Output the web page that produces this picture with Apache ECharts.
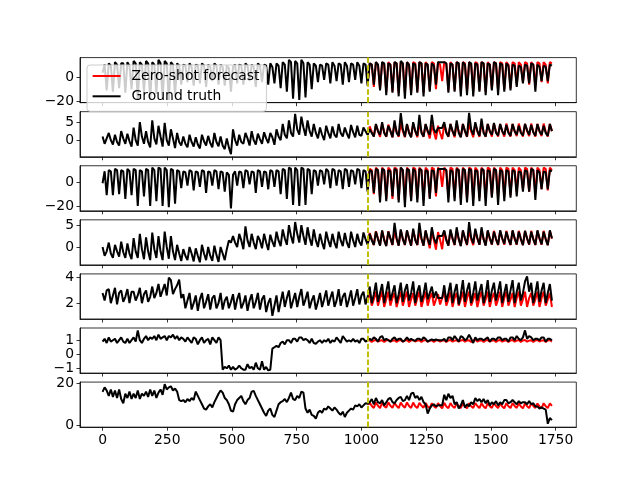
<!DOCTYPE html>
<html>
<head>
<meta charset="utf-8">
<script src="https://cdn.jsdelivr.net/npm/echarts@6/dist/echarts.min.js"></script>
<style>
html, body { margin: 0; padding: 0; background: #fff; }
#chart { width: 640px; height: 480px; }
</style>
</head>
<body>
<div id="chart"></div>
<script>
// series are sampled every STEP time steps, forecast starts at CONTEXT
const STEP = 8;
const CONTEXT = 1024;
const xTicks = [0, 250, 500, 750, 1000, 1250, 1500, 1750];

// panel 1
const hufl = [
  4,11,-11, 12,10,-12, 13,11,-9, 12,12,-13, 13,10,-10, 14,12,-18,
  13,11,-12, 14,12,-19, 13,11,-14, 15,12,-18, 14,12,-19, 13,11,-16,
  12,10,-6, 11,10,-4, 12,9,-7, 11,10,-5, 12,10,-8, 11,9,-3,
  12,10,-6, 11,9,-7, 10,8,-12, 9,11,-5, 11,10,-6, 12,10,-3,
  11,9,-8, 12,10,-4, 11,10,-6, 12,9,-5, 12,10,-9, 13,11,-12,
  15,13,-18, 14,12,-19, 15,12,-17, 13,11,-10, 12,10,-4, 11,10,-2,
  12,11,-5, 13,10,-3, 12,11,-6, 13,10,-4, 12,11,-2, 13,10,-5,
  12,11,-7, 12,11,-6, 13,11,-11, 13,12,-15, 12,11,-13, 13,12,-16,
  14,12,-18, 13,11,-15, 12,11,-13, 13,12,-16, 12,11,-12, 12,10,-6,
  13,13,13, 13,12,-13, 12,11,-12, 13,12,-16, 13,11,-15, 13,12,-16,
  12,11,-12, 13,12,-15, 12,11,-11, 13,12,-15, 12,11,-12, 12,10,-11,
  11,10,-8, 10,9,-5, 11,10,-5, 12,11,-12, 11,9,-3, 10,9,-3,
  11,10
];
const huflPred = [
  -5,
  12,11,-8, 13,11,-10, 13,11,-12, 13,11,-12, 13,12,-13,
  13,12,-13, 13,11,-13, 13,12,-12, 13,12,-13, 13,11,-11,
  13,12,-10, 13,11,-3, 13,12,-11, 13,11,-11, 13,12,-12,
  13,12,-12, 13,11,-12, 13,12,-11, 13,12,-12, 13,11,-10,
  13,12,-11, 13,12,-10, 13,11,-9, 13,12,-6, 13,11,-4,
  13,12,-6, 13,11,-7, 13,12,-4, 13,11,-5,
  13,12
];

// panel 2
const hull = [
  1,-1,0.5, 2,0,-1.2, 1.5,-0.5,-1.5, 2.5,0.5,-1, 1.8,-0.3,-1.8, 3.5,0,-1.5,
  5,1,-1, 2.5,-0.5,-2, 5.5,0.5,-1.2, 4,1,-1.8, 4.8,0,-1.5, 3,0.5,-2.2,
  2,-0.5,-1.5, 1,-1,-2, 1.5,-0.5,-1.8, 0.8,-1.2,-2.3, 1.5,-0.3,-1.5, 1.2,-0.8,-2,
  2,-0.5,-1.7, 1,-1.5,-2.5, 0.5,-2,-3.9, 3,0,-1.5, 1.5,-0.5,-1, 2,0.5,-1.5,
  2.5,0,-1.2, 1.8,0.3,-1, 2.2,0.5,-0.8, 2,0.8,-1.3, 3,1,0, 4.5,1.5,0.5,
  5.5,2,1, 7.3,3,1.5, 6.5,3.5,1.2, 5.5,2.5,1, 4.5,2,0.5, 3.5,1.5,0,
  4,2,0.5, 3.8,1.5,0.8, 4.5,2,1, 3.5,1.8,0.5, 4.2,2.2,0.8, 4,1.5,1.2,
  3.5,2.5,1.5, 3,2,1, 4.5,2.5,1.5, 5,2,1, 4,2.5,0.8, 5.5,2,1.2,
  7.5,3,1, 4.5,2,0.8, 5,2.5,1.2, 7,2,1, 4.5,2.5,1.5, 7,3,2,
  3.4,3.4,3.4, 5,2,1, 4.5,2.5,1.2, 5.5,2,0.8, 4.5,2.5,1, 7.6,3,1.5,
  5,2.5,1.2, 6,2,1, 4.5,2.5,1.5, 4.8,2,1.3, 4.5,2.5,1.5, 4.2,2,1.2,
  4.5,2.5,1.5, 4,2,1.3, 4.5,2.8,1.5, 4.2,2.2,1.2, 4.5,2.5,1.5, 4,2,1.2,
  4.5,2.5
];
const hullPred = [
  1.5,
  3.8,2.3,1, 4.3,2.5,0.9, 4.5,2.3,0.9, 4.3,2.6,0.8, 4.5,2.4,0.9,
  4.6,2.5,0.8, 4.4,2.3,0.9, 4.5,2.5,0.8, 4.6,2.4,0.9, 4.4,2.5,0.5,
  4.2,2.2,0.2, 4,2,0.3, 4.4,2.4,0.9, 4.5,2.5,0.8, 4.6,2.4,0.9,
  4.5,2.5,0.9, 4.6,2.4,0.8, 4.5,2.5,0.9, 4.6,2.4,0.9, 4.5,2.5,1,
  4.6,2.4,1, 4.5,2.5,1, 4.6,2.4,1, 4.5,2.5,1.1, 4.6,2.4,1,
  4.5,2.5,1.1, 4.6,2.4,1, 4.5,2.5,1.1, 4.6,2.4,1,
  4.5,2.5
];

// panel 3
const mufl = [
  -1,9,-11, 10,9,-11, 11,10,-10, 10,9,-14, 11,9,-11, 11,10,-20,
  10,9,-12, 11,10,-20, 12,10,-16, 12,11,-20, 12,10,-21, 11,10,-18,
  10,9,-5, 9,8,-3, 10,9,-7, 9,8,-4, 10,9,-9, 9,8,-3,
  10,9,-6, 9,8,-8, 8,6,-22, 6,9,-3, 9,8,-5, 10,9,-2,
  9,8,-9, 10,9,-4, 9,8,-6, 10,9,-4, 10,9,-10, 11,10,-14,
  12,11,-19, 12,10,-20, 12,11,-19, 11,10,-10, 10,9,-3, 10,9,-2,
  11,9,-5, 11,10,-3, 10,9,-6, 11,10,-4, 10,9,-2, 11,10,-5,
  10,9,-8, 10,9,-9, 11,10,-17, 11,10,-16, 10,9,-12, 11,10,-17,
  12,10,-21, 11,10,-16, 11,9,-17, 11,10,-20, 10,9,-14, 10,9,-9,
  11,11,11, 11,10,-17, 10,9,-16, 11,10,-19, 11,10,-17, 11,10,-20,
  10,9,-16, 11,10,-20, 10,9,-13, 11,10,-19, 10,9,-16, 10,9,-13,
  10,9,-12, 9,8,-8, 10,9,-8, 11,10,-15, 10,8,-6, 9,8,-6,
  10,9
];
const muflPred = [
  -7,
  11,10,-10, 12,10,-13, 12,10,-14, 12,10,-14, 12,11,-15,
  12,10,-15, 12,10,-15, 12,11,-14, 12,10,-15, 12,10,-13,
  12,11,-12, 12,10,-4, 12,10,-13, 12,11,-13, 12,10,-14,
  12,10,-14, 12,11,-14, 12,10,-13, 12,10,-14, 12,11,-12,
  12,10,-13, 12,10,-12, 12,11,-11, 12,10,-8, 12,10,-6,
  12,11,-8, 12,10,-9, 12,10,-6, 12,11,-7,
  12,10
];

// panel 4
const mull = [
  0,-2,-1, 1,-1.5,-2.5, 0.5,-1,-2.2, 1.2,-1.2,-2.5, 0.8,-1.5,-2.8, 2,-1,-2.5,
  3,-0.5,-2.8, 2.2,-1,-3, 3.3,-0.5,-2.5, 2.5,-1,-3, 3.5,0,-2.7, 2.5,-1,-3,
  0.5,-1.5,-3.2, -0.5,-2,-3, 0,-1.5,-3.3, -0.3,-2,-3.5, 0.5,-1.5,-3, 0,-2,-3.2,
  0.3,-1.8,-3.4, 0,-1.5,-3, -0.5,1.5,1, 2.5,1,0, 3,1.5,-0.5, 4.7,1.5,0,
  3,1,-0.5, 2.5,1.5,-0.3, 3,1,-0.7, 2.8,1.2,0, 3.5,1.5,0.2, 4,2,0.5,
  5,2.5,0.8, 5.7,3,1, 5,2.5,0.5, 4.5,2,0.3, 4,1.5,0, 3,1,-0.5,
  3.5,1.5,0, 3,1,-0.3, 3.5,1.5,0.2, 3.2,1,-0.2, 3.5,1.5,0, 3,1.2,0.3,
  3.3,1.8,0.5, 3,1.5,0.5, 3.5,1.8,0.3, 3.8,1.5,0.2, 3.5,2,0.5, 5.5,2,0.3,
  4,1.8,0.5, 3.8,2,0.3, 4.2,1.5,0.5, 5.5,2,0.3, 3.8,1.8,0.5, 4.5,2,0.8,
  2.5,2.5,2.5, 3.8,1.5,0.3, 4,2,0.5, 4.5,1.8,0.2, 3.8,2,0.5, 5.7,2.2,0.8,
  4.2,2,0.5, 4.5,1.8,0.3, 3.8,2,0.6, 3.5,1.8,0.5, 3.8,2,0.7, 3.5,1.8,0.5,
  3.8,2,0.6, 3.5,1.8,0.4, 3.7,2,0.6, 3.5,1.8,0.5, 3.8,2,0.6, 3.5,1.8,0.4,
  3.8,2
];
const mullPred = [
  0.5,
  3.2,1.8,0.4, 3.6,1.9,0.4, 3.7,1.8,0.3, 3.6,1.9,0.4, 3.7,1.8,0.3,
  3.8,1.9,0.4, 3.7,1.8,0.3, 3.8,1.9,0.4, 3.7,1.8,0.3, 3.6,1.7,-0.3,
  3.5,1.6,-0.6, 3.4,1.6,-0.5, 3.6,1.8,0.3, 3.7,1.9,0.4, 3.8,1.8,0.3,
  3.7,1.9,0.4, 3.8,1.8,0.4, 3.7,1.9,0.5, 3.8,1.8,0.4, 3.7,1.9,0.5,
  3.7,1.8,0.4, 3.7,1.9,0.5, 3.7,1.8,0.4, 3.7,1.9,0.5, 3.7,1.8,0.4,
  3.7,1.9,0.5, 3.7,1.8,0.4, 3.7,1.9,0.5, 3.7,1.8,0.4,
  3.7,1.9
];

// panel 5
const lufl = [
  2.8,2.2,3.0, 3.1,2.0,2.6, 3.2,1.9,2.8, 3.0,2.1,2.5, 3.1,2.0,2.9, 2.9,2.2,2.6,
  3.2,2.0,2.7, 3.0,2.1,2.5, 3.3,2.4,2.8, 3.5,2.5,3.0, 3.5,2.6,4.0, 3.8,2.7,3.1,
  3.4,3.85,2.4, 2.7,1.6,2.2, 2.8,1.5,2.0, 2.6,1.4,2.3, 2.8,1.6,2.1, 2.7,1.5,2.4,
  2.6,1.6,2.0, 2.8,1.5,2.2, 2.5,1.6,2.1, 2.7,1.5,2.3, 2.8,1.6,2.0, 2.6,1.4,2.2,
  2.7,1.6,2.1, 2.8,1.5,2.3, 2.6,1.3,2.0, 2.4,1.0,1.8, 2.6,1.3,2.1, 2.9,1.7,2.4,
  3.0,1.6,2.2, 2.8,1.7,2.5, 3.1,1.8,2.3, 2.9,1.6,2.2, 2.6,1.5,2.1, 2.8,1.7,2.3,
  3.0,1.8,2.4, 2.9,1.7,2.2, 3.1,1.8,2.5, 2.8,1.7,2.3, 3.0,1.8,2.4, 3.1,1.9,2.6,
  2.9,1.9,2.5, 3.3,2.0,2.7, 3.6,2.1,2.8, 3.5,2.0,2.9, 3.7,2.2,2.8, 3.4,2.0,2.7,
  3.6,2.1,3.0, 3.5,2.2,2.8, 3.7,2.0,2.9, 3.4,2.1,2.7, 3.6,2.3,2.8, 3.3,2.4,2.9,
  2.4,2.4,2.4, 3.4,2.1,2.8, 3.6,2.0,2.9, 3.5,1.9,2.7, 3.8,2.1,3.0, 3.6,2.0,2.8,
  3.7,2.2,2.9, 3.5,2.0,2.7, 3.8,2.1,3.0, 3.6,2.2,2.9, 3.7,2.0,2.8, 3.5,2.1,3.0,
  3.8,2.0,2.9, 3.6,2.2,2.8, 3.7,4.1,2.9, 3.6,2.0,2.8, 3.7,2.1,3.0, 3.6,2.0,2.8,
  3.5,2.2
];
const luflPred = [
  2.3,
  2.8,1.8,2.3, 2.9,1.8,2.4, 2.9,1.7,2.3, 2.9,1.8,2.4, 2.8,1.7,2.3,
  2.9,1.8,2.4, 2.9,1.7,2.3, 2.8,1.8,2.4, 2.9,1.7,2.3, 2.9,1.8,2.4,
  2.8,1.8,2.3, 2.7,1.9,2.4, 2.9,1.8,2.3, 2.9,1.7,2.4, 2.8,1.8,2.3,
  2.9,1.7,2.4, 2.9,1.8,2.3, 2.8,1.7,2.4, 2.9,1.8,2.3, 2.9,1.7,2.4,
  2.8,1.8,2.3, 2.9,1.7,2.4, 2.9,1.8,2.3, 2.8,1.7,2.4, 2.9,1.8,2.3,
  2.9,1.7,2.4, 2.8,1.8,2.3, 2.9,1.7,2.4, 2.9,1.8,2.3,
  2.8,1.7
];

// panel 6
const lull = [
  0.9,1.1,0.8, 1.2,0.9,1.0, 1.1,0.8,1.0, 1.2,0.9,0.8, 1.1,0.8,1.0, 1.2,0.9,1.7,
  1.0,0.8,1.1, 1.3,1.0,1.2, 1.1,1.3,1.0, 1.4,1.1,1.2, 1.3,1.0,1.3, 1.2,1.4,1.1,
  1.3,1.0,1.2, 1.1,0.9,1.2, 1.0,0.8,1.2, 1.1,0.7,1.0, 1.2,0.8,1.0, 1.1,0.7,1.2,
  1.0,0.8,1.2, 1.0,-1.1,-0.9, -1.0,-0.8,-1.1, -0.9,-1.1,-1.0, -0.8,-1.0,-1.1, -1.1,-0.7,-1.0,
  -0.9,-1.1,-0.6, -1.0,-1.1,-0.5, -1.1,-0.9,-1.15, -1.1,0.4,0.5, 0.6,0.5,0.8, 0.9,0.7,1.0,
  1.0,0.8,1.1, 1.1,0.9,1.2, 1.2,1.0,1.1, 1.0,0.8,1.1, 0.8,0.75,0.9, 1.0,0.8,1.0,
  0.9,1.1,0.8, 1.0,0.9,1.2, 1.0,0.8,1.3, 1.1,0.9,1.0, 0.9,1.1,0.9, 1.0,0.8,1.1,
  1.1,0.9,1.0, 1.1,1.0,1.2, 1.1,0.9,1.2, 1.3,1.0,1.1, 1.0,0.9,1.1, 1.2,1.0,1.1,
  1.1,0.9,1.0, 1.2,1.0,1.1, 1.0,0.95,1.1, 1.1,1.0,1.2, 1.1,0.9,1.0, 1.05,1.0,1.05,
  1.0,1.0,1.0, 1.1,0.9,1.2, 1.2,1.0,1.3, 1.1,0.9,1.3, 1.2,1.0,1.1, 1.4,1.1,0.8,
  1.2,1.0,1.1, 1.1,1.0,1.1, 1.2,0.9,1.1, 1.1,1.0,1.2, 1.2,1.0,1.1, 1.1,0.9,1.2,
  1.2,1.0,1.3, 1.1,1.0,1.2, 1.7,1.1,1.3, 1.2,1.0,1.1, 1.1,1.0,1.2, 1.2,0.9,1.1,
  1.1,1.0
];
const lullPred = [
  1.0,
  1.0,0.88,0.98, 1.02,0.9,0.97, 1.0,0.87,0.98, 1.03,0.9,0.96, 1.0,0.88,0.98,
  1.02,0.9,0.97, 1.01,0.88,0.99, 1.02,0.91,0.97, 1.0,0.88,0.98, 1.02,0.9,0.96,
  1.0,0.88,0.98, 1.01,0.9,0.97, 1.0,0.87,0.98, 1.02,0.9,0.97, 1.0,0.89,0.98,
  1.02,0.9,0.97, 1.0,0.88,0.98, 1.03,0.9,0.97, 1.0,0.88,0.99, 1.02,0.9,0.97,
  1.0,0.88,0.98, 1.02,0.9,0.96, 1.0,0.87,0.98, 1.02,0.9,0.97, 1.01,0.88,0.98,
  1.02,0.9,0.97, 1.0,0.88,0.98, 1.02,0.91,0.97, 1.0,0.88,0.98,
  1.02,0.9
];

// panel 7
const ot = [
  15.9,18.0,16.5, 14,17,13.5, 16.5,13,17, 12.5,10.5,15, 13,16,12.5, 15,13,16.5,
  12.5,15,14, 16,13.5,17, 14,16.5,13, 15.5,17,14.5, 19.5,17,18, 18.5,16.5,17.5,
  16,12,11.5, 12,11,12.5, 11.5,13,12, 16,14,12, 10,8,7.5, 9,10,8.5,
  11,13,15, 16.5,15.5,13, 12,10,7, 6.5,10,12, 13,14,11.5, 10,12,13,
  16,16.3,14, 12,10,8, 6,4.5,7, 8,5,4, 7,10,11, 11.5,12.5,11,
  13,15.5,12.5, 12,14,13, 16,15.5,8, 6,7.5,5, 4.5,3.2,6, 7,6,8,
  7.5,9,8, 7,8.5,7.5, 6,5,6.5, 4,6,7, 8,7.5,9.5, 9,10,8.5,
  9.5,10.5,10.3, 11,12.5,10, 13,11,10.5, 12,9.5,11, 12.5,13,11, 10.5,12,13,
  13.5,11.5,12, 14,12,15, 15.5,13,14, 12,13.5,11, 10,5.6,8, 9.5,10,9,
  9.5,9.5,9.5, 14.5,12,15, 13,14,10, 11,8,9.5, 12,8.5,10, 9,11,10,
  13,11.5,12.5, 11,12.5,10.5, 12,9.5,11, 10,11.5,9.5, 11,10,12, 12,10.5,11,
  12,11,10, 11.5,10.5,11, 11,10,11.5, 10,10.5,9, 9,8,8.5, 8,7.5,0.8,
  3.5,2.5
];
const otPred = [
  10,
  10.8,9.2,8.3, 10.9,9.3,8.2, 10.8,9.1,8.4, 10.9,9.3,8.3, 10.7,9.2,8.2,
  10.8,9.3,8.4, 10.9,9.2,8.3, 10.8,9.1,8.2, 10.7,9.3,8.4, 10.6,9.0,8.2,
  10.5,9.1,8.3, 10.6,9.2,8.1, 10.7,9.0,8.2, 10.6,9.1,8.3, 10.5,9.2,8.2,
  10.6,9.0,8.1, 10.5,9.1,8.3, 10.6,9.2,8.2, 10.5,9.0,8.1, 10.6,9.1,8.3,
  10.5,9.2,8.2, 10.4,9.0,8.1, 10.5,9.1,8.2, 10.6,9.2,8.3, 10.5,9.0,8.1,
  10.4,9.1,8.2, 10.5,9.2,8.3, 10.4,9.0,8.1, 10.5,9.1,8.2,
  10.4,9.2
];

// y tick labels per panel
const yTicks1 = [-20, 0];
const yTicks2 = [0, 5];
const yTicks3 = [-20, 0];
const yTicks4 = [0, 5];
const yTicks5 = [2, 4];
const yTicks6 = [-1, 0, 1];
const yTicks7 = [0, 20];

const panels = [
  { truth: hufl, pred: huflPred, min: -21.4, max: 16.9, ticks: yTicks1 },
  { truth: hull, pred: hullPred, min: -4.6, max: 7.9, ticks: yTicks2 },
  { truth: mufl, pred: muflPred, min: -24, max: 13.6, ticks: yTicks3 },
  { truth: mull, pred: mullPred, min: -4.1, max: 6.2, ticks: yTicks4 },
  { truth: lufl, pred: luflPred, min: 0.76, max: 4.29, ticks: yTicks5 },
  { truth: lull, pred: lullPred, min: -1.34, max: 1.87, ticks: yTicks6 },
  { truth: ot, pred: otPred, min: -0.8, max: 20.5, ticks: yTicks7 }
];

const toPairs = (start, vals) => vals.map((v, k) => [start + k * STEP, v]);

const font = 'DejaVu Sans';
const axisColor = { color: '#000', width: 0.8 };
const grids = [], xAxes = [], yAxes = [], series = [];

panels.forEach((p, k) => {
  grids.push({
    left: 80, top: 57.6 + k * 54.08, width: 496.3, height: 45.07,
    show: true, borderColor: '#000', borderWidth: 0.8, backgroundColor: 'transparent'
  });
  xAxes.push({
    type: 'value', gridIndex: k, min: -87.15, max: 1830.15,
    splitLine: { show: false },
    axisLine: { show: true, onZero: false, lineStyle: axisColor },
    axisTick: { show: true, length: 3.5, lineStyle: axisColor, customValues: xTicks },
    axisLabel: {
      show: k === panels.length - 1, customValues: xTicks, margin: 6,
      color: '#000', fontFamily: font, fontSize: 13.9,
      formatter: v => String(v)
    }
  });
  yAxes.push({
    type: 'value', gridIndex: k, min: p.min, max: p.max,
    splitLine: { show: false },
    axisLine: { show: true, onZero: false, lineStyle: axisColor },
    axisTick: { show: true, length: 3.5, lineStyle: axisColor, customValues: p.ticks },
    axisLabel: {
      customValues: p.ticks, margin: 6, color: '#000', fontFamily: font, fontSize: 13.9,
      formatter: v => String(v).replace('-', '\u2212')
    }
  });
  series.push({
    name: 'Zero-shot forecast', type: 'line', xAxisIndex: k, yAxisIndex: k,
    data: toPairs(CONTEXT, p.pred), showSymbol: false, symbol: 'none',
    lineStyle: { color: '#ff0000', width: 2 }, itemStyle: { color: '#ff0000' }
  });
  series.push({
    name: 'Ground truth', type: 'line', xAxisIndex: k, yAxisIndex: k,
    data: toPairs(0, p.truth), showSymbol: false, symbol: 'none',
    lineStyle: { color: '#000000', width: 2 }, itemStyle: { color: '#000000' },
    markLine: {
      silent: true, symbol: ['none', 'none'], label: { show: false },
      lineStyle: { color: '#bfbf00', width: 2, type: [5.55, 2.4], opacity: 1 },
      data: [{ xAxis: CONTEXT }]
    }
  });
});

const chart = echarts.init(document.getElementById('chart'));
chart.setOption({
  animation: false,
  backgroundColor: '#fff',
  grid: grids,
  xAxis: xAxes,
  yAxis: yAxes,
  legend: {
    data: [
      { name: 'Zero-shot forecast', icon: 'rect' },
      { name: 'Ground truth', icon: 'rect' }
    ],
    orient: 'vertical', left: 87, top: 65,
    itemWidth: 28, itemHeight: 2, itemGap: 6.3,
    padding: [4, 7, 8, 5.6],
    backgroundColor: 'rgba(255,255,255,0.8)',
    borderColor: '#cccccc', borderWidth: 1, borderRadius: 3,
    selectedMode: false,
    textStyle: { fontFamily: font, fontSize: 13.9, color: '#000', lineHeight: 14, padding: [0, 0, 0, 6] }
  },
  series: series
});
</script>
</body>
</html>
